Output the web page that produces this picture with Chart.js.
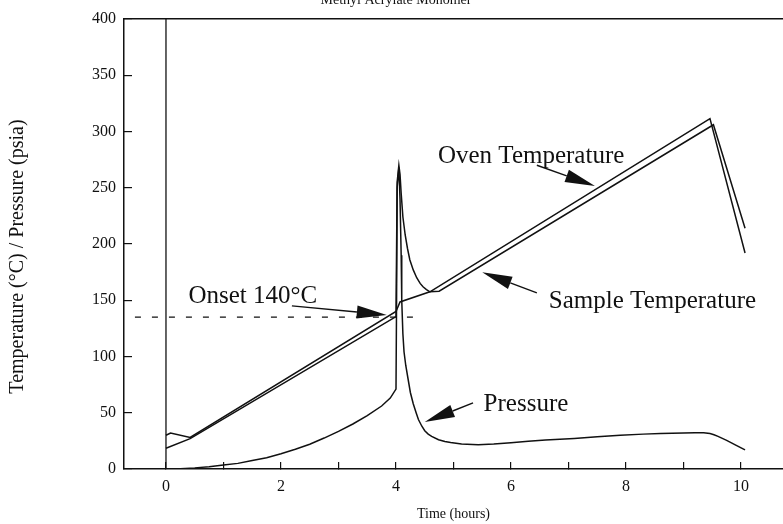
<!DOCTYPE html>
<html>
<head>
<meta charset="utf-8">
<script src="https://cdn.jsdelivr.net/npm/chart.js@4/dist/chart.umd.min.js"></script>
<style>
  html, body { margin:0; padding:0; background:#fff; }
  canvas { display:block; }
</style>
</head>
<body>
<canvas id="chart" width="783" height="524"></canvas>
<script>
/* Methyl Acrylate Monomer - oven / sample temperature and pressure vs time */

const INK = "#111";
const SERIF = "'Liberation Serif', 'Times New Roman', serif";

// ---- data (time in hours) ----
const OVEN_T   = [0, 0.08, 0.42, 4.0, 4.07, 4.59, 9.46, 10.07];
const OVEN_V   = [30, 32, 28, 140, 148.5, 157.5, 311.5, 192];

const SAMPLE_T = [0, 0.42, 4.0, 4.02, 4.05, 4.07, 4.09, 4.12, 4.16, 4.20, 4.24, 4.30, 4.36, 4.42, 4.47, 4.53, 4.59,
                  4.75, 9.52, 10.07];
const SAMPLE_V = [18.5, 27, 135.5, 255, 270, 262, 245, 224, 208, 196, 186, 177, 170, 165, 162, 159.5, 157.5,
                  158, 306, 214];

const PRESS_T  = [0, 0.25, 0.5, 0.75, 1.0, 1.25, 1.5, 1.75, 2.0, 2.25, 2.5, 2.75, 3.0, 3.25, 3.5, 3.75, 3.9, 4.0,
                  4.01, 4.02, 4.05, 4.07, 4.09, 4.10, 4.12, 4.14, 4.17, 4.21, 4.25, 4.30, 4.35, 4.39, 4.45, 4.5,
                  4.56, 4.62, 4.74, 4.85, 4.95, 5.14, 5.43, 5.7, 6.0, 6.3, 6.6, 7.1, 7.5, 7.9, 8.3, 8.6, 9.0,
                  9.2, 9.35, 9.46, 9.53, 9.6, 9.75, 9.9, 10.07];
const PRESS_V  = [0, 0.3, 1, 2, 3.5, 5, 7.5, 10, 13.5, 17.5, 22, 27.5, 33.5, 40, 47.5, 56, 63, 71,
                  150, 250, 268, 240, 190, 150, 120, 104, 92, 80, 68, 58, 50, 44, 38, 34,
                  31, 29, 26, 24.5, 23.5, 22.2, 21.5, 22.2, 23.4, 24.6, 25.8, 27.2, 28.6, 30, 31, 31.5, 32.1,
                  32.3, 32.2, 31.5, 30.5, 29, 25.5, 21.5, 17];

const ONSET_T  = [-0.54, 4.38];          // dashed onset marker
const ONSET_V  = [135, 135];
const ZERO_T   = [0, 0];                 // start-of-run vertical trace
const ZERO_V   = [0, 400];

const X_TICKS  = [0, 2, 4, 6, 8, 10];
const Y_TICKS  = [0, 50, 100, 150, 200, 250, 300, 350, 400];

const pts = (xs, ys) => xs.map((x, i) => ({ x, y: ys[i] }));

// text + arrows, placed in data units
const NOTES = [
  { text:"Onset 140°C",        at:[1.51, 153.5], from:[2.19, 145],   to:[3.84, 137] },
  { text:"Oven Temperature",   at:[6.35, 278],   from:[6.45, 270],   to:[7.46, 251.5] },
  { text:"Sample Temperature", at:[8.46, 149.3], from:[6.45, 156.5], to:[5.50, 175] },
  { text:"Pressure",           at:[6.26, 57.8],  from:[5.34, 58.7],  to:[4.50, 41.8] },
];

const notesPlugin = {
  id: "notes",
  afterDatasetsDraw(chart){
    const { ctx, scales:{ x, y } } = chart;
    ctx.save();
    ctx.fillStyle = INK; ctx.strokeStyle = INK; ctx.lineWidth = 1.4;
    // title, mostly cropped off the top edge in the source scan
    ctx.font = "14px " + SERIF;
    ctx.textAlign = "center"; ctx.textBaseline = "alphabetic";
    ctx.fillText("Methyl Acrylate Monomer", x.getPixelForValue(4.0), 4);

    ctx.font = "25px " + SERIF;
    ctx.textBaseline = "middle";
    for (const n of NOTES){
      ctx.fillText(n.text, x.getPixelForValue(n.at[0]), y.getPixelForValue(n.at[1]));
      const x1 = x.getPixelForValue(n.from[0]), y1 = y.getPixelForValue(n.from[1]);
      const x2 = x.getPixelForValue(n.to[0]),   y2 = y.getPixelForValue(n.to[1]);
      const a = Math.atan2(y2 - y1, x2 - x1), L = 30, W = 6.5;
      const bx = x2 - L*Math.cos(a), by = y2 - L*Math.sin(a);
      ctx.beginPath(); ctx.moveTo(x1, y1); ctx.lineTo(bx, by); ctx.stroke();
      ctx.beginPath();
      ctx.moveTo(x2, y2);
      ctx.lineTo(bx + W*Math.sin(a), by - W*Math.cos(a));
      ctx.lineTo(bx - W*Math.sin(a), by + W*Math.cos(a));
      ctx.closePath(); ctx.fill();
    }
    ctx.restore();
  }
};

const line = (data, extra) => Object.assign({
  data, borderColor:INK, borderWidth:1.5, pointRadius:0, showLine:true, fill:false, tension:0
}, extra || {});

const X_MIN = -0.73, X_MAX = 10.73;

new Chart(document.getElementById("chart"), {
  type: "scatter",
  data: {
    datasets: [
      line(pts(ZERO_T, ZERO_V), { borderWidth:1.3 }),
      line(pts(OVEN_T, OVEN_V)),
      line(pts(SAMPLE_T, SAMPLE_V)),
      line(pts(PRESS_T, PRESS_V)),
      line(pts(ONSET_T, ONSET_V), { borderWidth:1.2, borderDash:[6, 11] }),
    ]
  },
  options: {
    responsive:false, animation:false,
    layout:{ padding:{ top:19, right:0, left:0, bottom:0 } },
    plugins:{ legend:{ display:false }, tooltip:{ enabled:false } },
    scales:{
      x:{
        type:"linear", min:X_MIN, max:X_MAX,
        afterFit: s => { s.height = 55; s.paddingLeft = 0; s.paddingRight = 0; },
        border:{ color:INK, width:1.5 },
        grid:{ drawOnChartArea:false, color:INK, lineWidth:1.2, tickLength:-7 },
        ticks:{
          stepSize:1, includeBounds:false, padding:15, color:INK, maxRotation:0, autoSkip:false,
          font:{ family:SERIF, size:16 },
          callback: v => X_TICKS.includes(v) ? String(v) : ""
        },
        title:{ display:true, text:"Time (hours)", color:INK, font:{ family:SERIF, size:14 }, padding:{ top:0, bottom:1 } }
      },
      x2:{
        type:"linear", position:"top", min:X_MIN, max:X_MAX,
        afterFit: s => { s.height = 0; s.paddingLeft = 0; s.paddingRight = 0; },
        border:{ color:INK, width:1.5 },
        grid:{ display:false, drawTicks:false },
        ticks:{ display:false }
      },
      y:{
        min:0, max:400,
        afterFit: s => { s.width = 124; s.paddingTop = 0; s.paddingBottom = 0; },
        border:{ color:INK, width:1.5 },
        grid:{ drawOnChartArea:false, color:INK, lineWidth:1.2, tickLength:-8 },
        ticks:{
          stepSize:50, padding:16, color:INK,
          font:{ family:SERIF, size:16 },
          callback: v => Y_TICKS.includes(v) ? String(v) : ""
        },
        // trailing spaces nudge the rotated title down to where the scan has it
        title:{ display:true, text:"Temperature (°C) / Pressure (psia)     ", color:INK, font:{ family:SERIF, size:20 }, padding:{ top:6, bottom:0 } }
      }
    }
  },
  plugins:[notesPlugin]
});
</script>
</body>
</html>
